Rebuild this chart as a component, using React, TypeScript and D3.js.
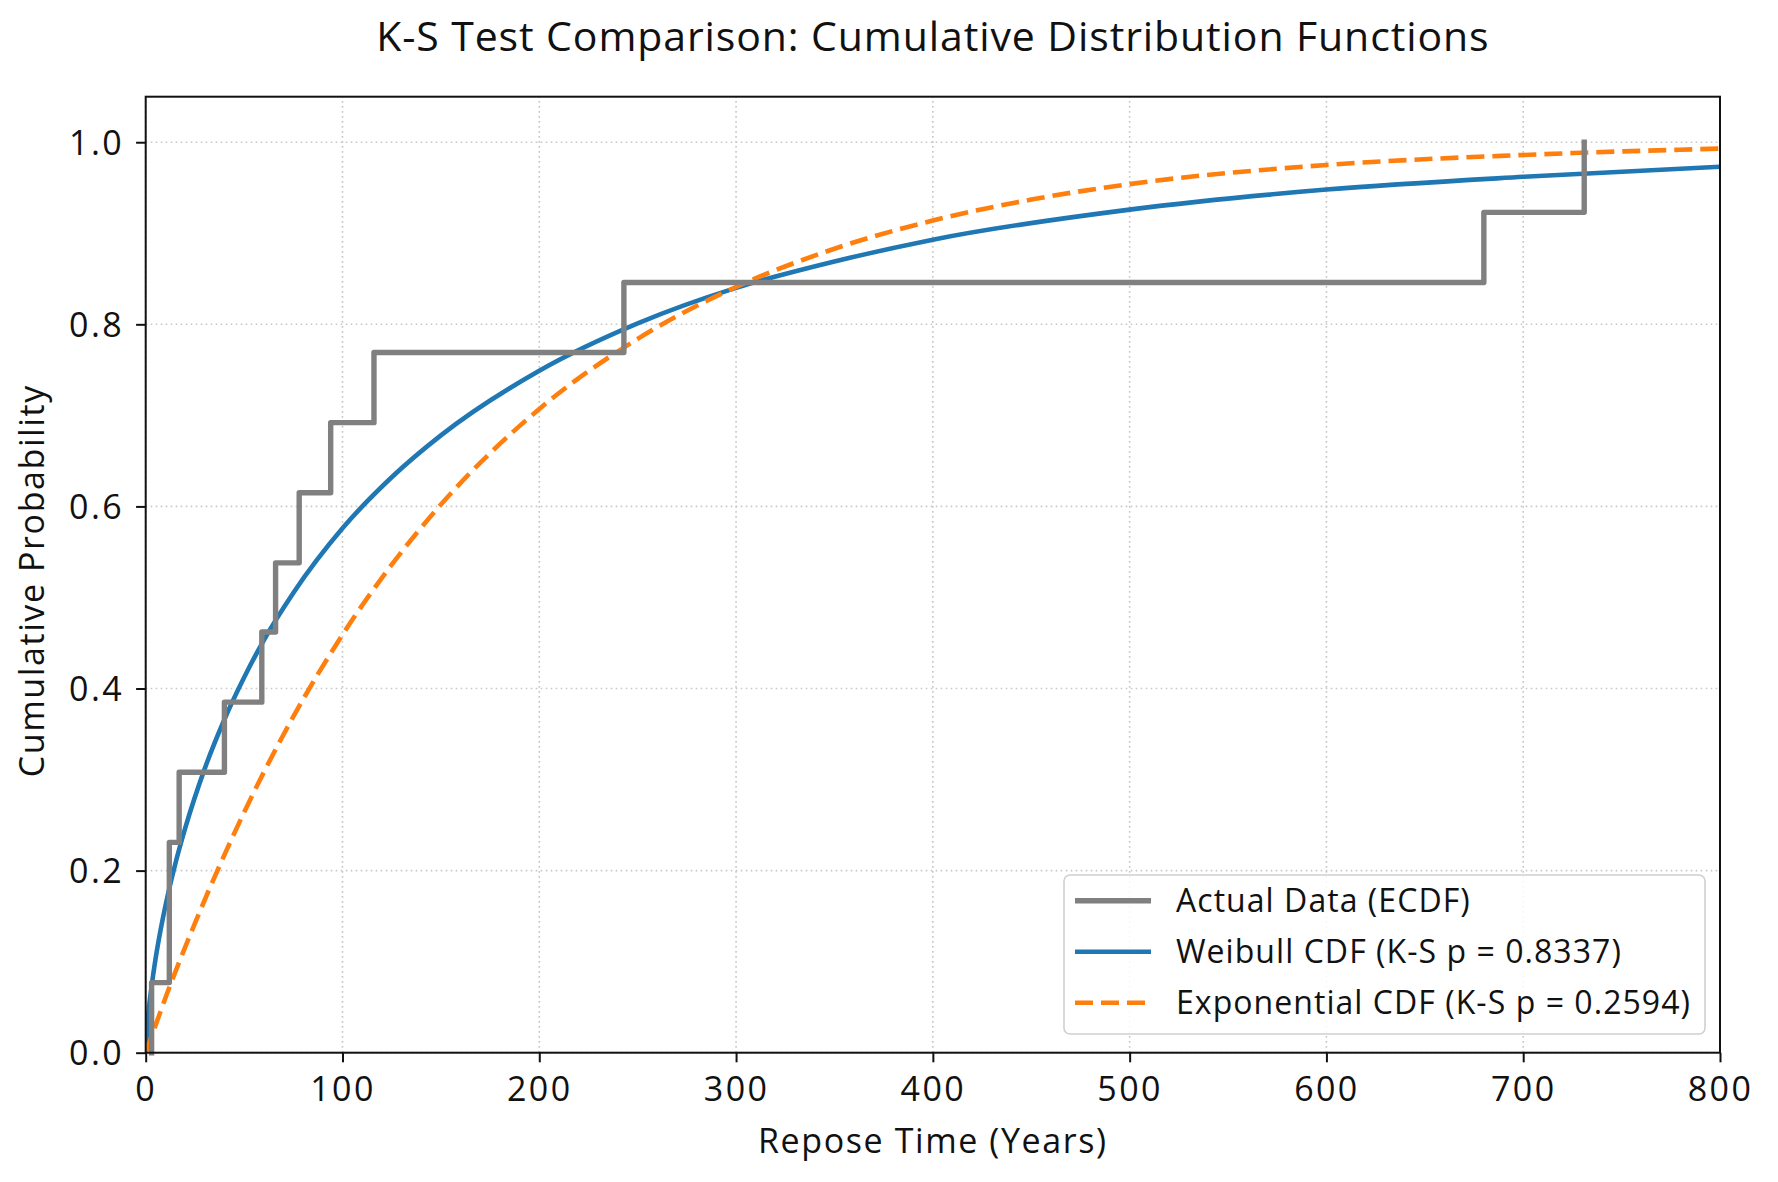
import * as d3 from "d3";
import { useEffect, useRef } from "react";

// ECDF step levels (distinct repose times, sorted)
const ecdfYears = [3, 12, 17, 40, 59, 66, 78, 94, 116, 243, 680, 731];
const ecdfProb = [0.077, 0.231, 0.308, 0.385, 0.462, 0.538, 0.615, 0.692, 0.769, 0.846, 0.923, 1.0];

// fitted Weibull curve
const weibullYears = [0, 1, 2, 3, 5, 7.5, 10, 15, 20, 30, 40, 50, 60, 75, 100, 125, 150, 200, 250, 300, 350, 400, 500, 600, 700, 800];
const weibullCdf = [0, 0.035, 0.056, 0.073, 0.103, 0.134, 0.161, 0.207, 0.246, 0.312, 0.366, 0.412, 0.453, 0.505, 0.576, 0.632, 0.678, 0.749, 0.801, 0.84, 0.869, 0.893, 0.926, 0.948, 0.962, 0.973];

// fitted exponential curve
const expYears = [0, 5, 10, 25, 50, 75, 100, 125, 150, 200, 250, 300, 350, 400, 450, 500, 600, 700, 800];
const expCdf = [0, 0.03, 0.06, 0.142, 0.264, 0.369, 0.459, 0.536, 0.602, 0.707, 0.784, 0.841, 0.883, 0.914, 0.937, 0.954, 0.975, 0.986, 0.993];

const xTicks = [0, 100, 200, 300, 400, 500, 600, 700, 800];
const yTicks = [0, 0.2, 0.4, 0.6, 0.8, 1.0];

const legendLabels = [
  "Actual Data (ECDF)",
  "Weibull CDF (K-S p = 0.8337)",
  "Exponential CDF (K-S p = 0.2594)",
];

const FONT = "'Open Sans', Lato, sans-serif";

export default function App() {
  const svgRef = useRef<SVGSVGElement | null>(null);
  const width = 1778;
  const height = 1182;
  const marginLeft = 145.7;
  const marginRight = 58;
  const marginTop = 96.7;
  const marginBottom = 129.3;

  useEffect(() => {
    if (!svgRef.current) return;
    const svg = d3.select(svgRef.current);
    svg.selectAll("*").remove();

    const x = d3.scaleLinear().domain([0, 800]).range([marginLeft, width - marginRight]);
    const y = d3.scaleLinear().domain([0, 1.05]).range([height - marginBottom, marginTop]);

    svg.append("rect").attr("width", width).attr("height", height).attr("fill", "#fff");

    svg
      .append("defs")
      .append("clipPath")
      .attr("id", "plot-clip")
      .append("rect")
      .attr("x", marginLeft)
      .attr("y", marginTop)
      .attr("width", width - marginLeft - marginRight)
      .attr("height", height - marginTop - marginBottom);

    // grid
    const grid = svg.append("g").attr("stroke", "#c8c8c8").attr("stroke-width", 1.6).attr("stroke-dasharray", "1.6,3.4");
    xTicks.forEach((t) => {
      grid.append("line").attr("x1", x(t)).attr("x2", x(t)).attr("y1", y(0)).attr("y2", y(1.05));
    });
    yTicks.forEach((t) => {
      grid.append("line").attr("x1", x(0)).attr("x2", x(800)).attr("y1", y(t)).attr("y2", y(t));
    });

    const plot = svg.append("g").attr("clip-path", "url(#plot-clip)");

    // ECDF as a post step
    const ecdfPts: [number, number][] = [[ecdfYears[0], 0], ...ecdfYears.map((d, i) => [d, ecdfProb[i]] as [number, number])];
    const step = d3
      .line<[number, number]>()
      .x((d) => x(d[0]))
      .y((d) => y(d[1]))
      .curve(d3.curveStepAfter);

    svg
      .append("path")
      .datum(ecdfPts)
      .attr("fill", "none")
      .attr("stroke", "#808080")
      .attr("stroke-width", 5.4)
      .attr("stroke-linecap", "square")
      .attr("stroke-linejoin", "round")
      .attr("d", step);

    const smooth = d3
      .line<[number, number]>()
      .x((d) => x(d[0]))
      .y((d) => y(d[1]))
      .curve(d3.curveMonotoneX);

    plot
      .append("path")
      .datum(weibullYears.map((d, i) => [d, weibullCdf[i]] as [number, number]))
      .attr("fill", "none")
      .attr("stroke", "#1f77b4")
      .attr("stroke-width", 4.6)
      .attr("d", smooth);

    plot
      .append("path")
      .datum(expYears.map((d, i) => [d, expCdf[i]] as [number, number]))
      .attr("fill", "none")
      .attr("stroke", "#ff7f0e")
      .attr("stroke-width", 4.6)
      .attr("stroke-dasharray", "18,8")
      .attr("d", smooth);

    // frame
    svg
      .append("rect")
      .attr("x", marginLeft)
      .attr("y", marginTop)
      .attr("width", width - marginLeft - marginRight)
      .attr("height", height - marginTop - marginBottom)
      .attr("fill", "none")
      .attr("stroke", "#111")
      .attr("stroke-width", 2);

    // axes
    const xAxis = svg
      .append("g")
      .attr("transform", `translate(0,${height - marginBottom})`)
      .call(d3.axisBottom(x).tickValues(xTicks).tickSize(9.6).tickPadding(15).tickFormat(d3.format("d")));
    const yAxis = svg
      .append("g")
      .attr("transform", `translate(${marginLeft},0)`)
      .call(d3.axisLeft(y).tickValues(yTicks).tickSize(9.6).tickPadding(12).tickFormat(d3.format(".1f")));

    [xAxis, yAxis].forEach((g) => {
      g.select(".domain").remove();
      g.selectAll(".tick line").attr("stroke", "#111").attr("stroke-width", 2);
      g.selectAll(".tick text")
        .attr("fill", "#111")
        .attr("font-size", 34)
        .attr("letter-spacing", 2.4)
        .attr("font-family", FONT);
    });
    yAxis.selectAll(".tick text").attr("dy", "0.36em");

    // title & labels
    svg
      .append("text")
      .attr("x", (marginLeft + width - marginRight) / 2)
      .attr("y", 50.7)
      .attr("text-anchor", "middle")
      .attr("font-family", FONT)
      .attr("font-size", 41)
      .attr("letter-spacing", 0.9)
      .attr("fill", "#111")
      .text("K-S Test Comparison: Cumulative Distribution Functions");

    svg
      .append("text")
      .attr("x", (marginLeft + width - marginRight) / 2)
      .attr("y", 1152.7)
      .attr("text-anchor", "middle")
      .attr("font-family", FONT)
      .attr("font-size", 34)
      .attr("letter-spacing", 1.6)
      .attr("fill", "#111")
      .text("Repose Time (Years)");

    svg
      .append("text")
      .attr("transform", `translate(44,${(marginTop + height - marginBottom) / 2 + 6}) rotate(-90)`)
      .attr("text-anchor", "middle")
      .attr("font-family", FONT)
      .attr("font-size", 34)
      .attr("letter-spacing", 1.6)
      .attr("fill", "#111")
      .text("Cumulative Probability");

    // legend
    const legend = svg.append("g");
    legend
      .append("rect")
      .attr("x", 1064)
      .attr("y", 875)
      .attr("width", 641)
      .attr("height", 159)
      .attr("rx", 6)
      .attr("fill", "#fff")
      .attr("fill-opacity", 0.85)
      .attr("stroke", "#d0d0d0")
      .attr("stroke-width", 1.6);

    const legendStyles = [
      { color: "#808080", dash: null, w: 5.4 },
      { color: "#1f77b4", dash: null, w: 4.6 },
      { color: "#ff7f0e", dash: "18,8", w: 4.6 },
    ];
    legendLabels.forEach((label, i) => {
      const row = legend.append("g").attr("transform", `translate(1075,${900.7 + i * 51})`);
      const ln = row
        .append("line")
        .attr("x1", 0)
        .attr("x2", 76)
        .attr("stroke", legendStyles[i].color)
        .attr("stroke-width", legendStyles[i].w);
      if (legendStyles[i].dash) ln.attr("stroke-dasharray", legendStyles[i].dash as string);
      row
        .append("text")
        .attr("x", 101)
        .attr("dy", "0.36em")
        .attr("font-family", FONT)
        .attr("font-size", 32)
        .attr("letter-spacing", 1.05)
        .attr("fill", "#111")
        .text(label);
    });
  }, []);

  return (
    <svg
      ref={svgRef}
      width={width}
      height={height}
      style={{ position: "absolute", left: 0, top: 0, display: "block" }}
    />
  );
}
